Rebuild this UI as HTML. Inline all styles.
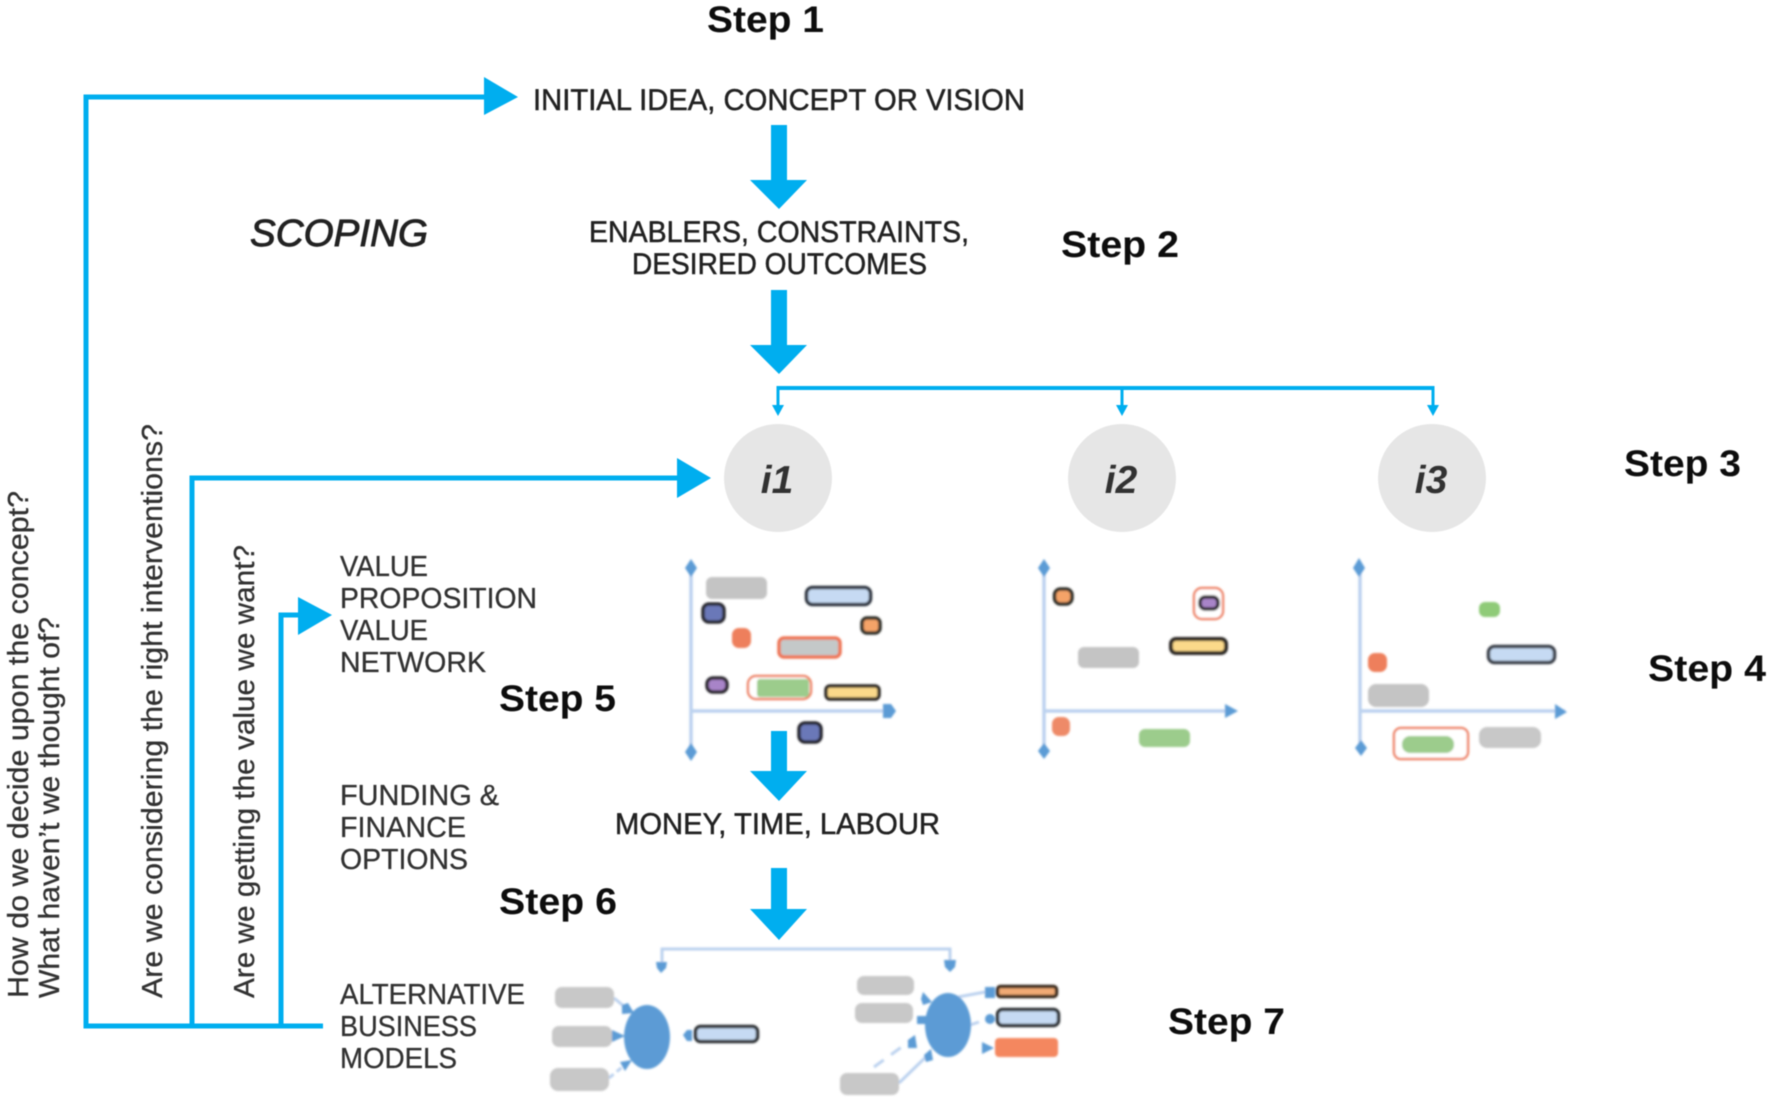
<!DOCTYPE html>
<html><head><meta charset="utf-8"><style>
html,body{margin:0;padding:0;background:#fff}
svg{display:block}
text{font-family:"Liberation Sans",sans-serif;text-rendering:geometricPrecision}
.s{font-weight:bold;font-size:37px;fill:#0a0a0a}
.c{font-size:30px;fill:#222;stroke:#222;stroke-width:.5}
.l{font-size:29px;fill:#333;stroke:#333;stroke-width:.3}
.r{font-size:29px;fill:#333;stroke:#333;stroke-width:.3}
.i{font-size:39px;font-style:italic;font-weight:bold;fill:#333}
</style></head><body>
<svg width="1772" height="1102" viewBox="0 0 1772 1102" xmlns="http://www.w3.org/2000/svg">
<defs>
<filter id="b" x="-5%" y="-5%" width="110%" height="110%"><feGaussianBlur stdDeviation="1.1"/></filter>
<filter id="t" x="-5%" y="-5%" width="110%" height="110%"><feGaussianBlur stdDeviation="0.6"/></filter>
<filter id="a" x="-5%" y="-5%" width="110%" height="110%"><feGaussianBlur stdDeviation="0.4"/></filter>
</defs>
<rect width="1772" height="1102" fill="#fff"/>

<!-- cyan connectors -->
<g filter="url(#a)">
<g fill="none" stroke="#00aeef" stroke-width="5">
<path d="M323 1026H86V97H490"/>
<path d="M192 1026V478H685"/>
<path d="M281 1026V615H303"/>
<path d="M778 388H1433" stroke-width="4"/>
<path d="M778 386V408M1122 388V408M1433 386V408" stroke-width="3"/>
</g>
<g fill="#00aeef">
<polygon points="484,77 518,97 484,115"/>
<polygon points="677,458 711,478 677,498"/>
<polygon points="298,597 332,615 298,635"/>
<polygon points="771,125 787,125 787,180 807,180 779,209 750,180 771,180"/>
<polygon points="771,290 787,290 787,345 807,345 779,374 750,345 771,345"/>
<polygon points="771,731 787,731 787,771 807,771 779,801 750,771 771,771"/>
<polygon points="771,868 787,868 787,909 807,909 779,940 750,909 771,909"/>
<polygon points="772,405 784,405 778,416"/>
<polygon points="1116,405 1128,405 1122,416"/>
<polygon points="1427,405 1439,405 1433,416"/>
</g>
</g>

<!-- circles -->
<g filter="url(#a)">
<circle cx="778" cy="478" r="54" fill="#e6e6e6"/>
<circle cx="1122" cy="478" r="54" fill="#e6e6e6"/>
<circle cx="1432" cy="478" r="54" fill="#e6e6e6"/>
</g>

<!-- charts -->
<g filter="url(#b)">
<g fill="none" stroke="#bcd2ef" stroke-width="3.5">
<path d="M691 566V752M691 711H891"/>
<path d="M1044 566V751M1044 711H1233"/>
<path d="M1360 566V748M1360 711H1565"/>
</g>
<g fill="#5b9bd5">
<polygon points="691,559 697,568 691,577 685,568"/>
<polygon points="691,743 697,752 691,761 685,752"/>
<polygon points="883,704 891,704 896,711 891,718 883,718"/>
<polygon points="1044,559 1050,568 1044,577 1038,568"/>
<polygon points="1044,743 1050,751 1044,759 1038,751"/>
<polygon points="1225,704 1238,711 1225,718"/>
<polygon points="1359,558 1365,568 1359,577 1353,568"/>
<polygon points="1361,740 1367,748 1361,756 1355,748"/>
<polygon points="1555,704 1567,712 1555,719"/>
</g>

<!-- chart 1 -->
<rect x="706" y="577" width="61" height="22" rx="6" fill="#c4c4c4"/>
<rect x="806.5" y="587.5" width="64" height="17" rx="6" fill="#c6daf3" stroke="#2f3540" stroke-width="3.5"/>
<rect x="703" y="604" width="21" height="18" rx="6" fill="#6a78b8" stroke="#2a2a33" stroke-width="3.5"/>
<rect x="862" y="618" width="18" height="15" rx="5" fill="#f4a368" stroke="#33302c" stroke-width="3.5"/>
<rect x="732" y="628" width="19" height="20" rx="7" fill="#ee7f5b"/>
<rect x="779" y="638" width="61" height="19" rx="5" fill="#c4c8c8" stroke="#ee7656" stroke-width="3.5"/>
<rect x="707" y="678" width="20" height="14" rx="6" fill="#a884c8" stroke="#2f2b33" stroke-width="3.5"/>
<rect x="748" y="676" width="63" height="23" rx="8" fill="#fff" stroke="#ee8568" stroke-width="2.5"/>
<rect x="757" y="679" width="52" height="18" rx="3" fill="#9ccc8c"/>
<rect x="826" y="686" width="53" height="13" rx="4" fill="#fbd98a" stroke="#2e2b26" stroke-width="3.5"/>
<rect x="799" y="723" width="22" height="19" rx="6" fill="#6a78b8" stroke="#26262e" stroke-width="3.5"/>

<!-- chart 2 -->
<rect x="1054.5" y="589" width="17.5" height="15" rx="6" fill="#f4a368" stroke="#33302c" stroke-width="3.5"/>
<rect x="1194" y="588" width="29" height="31" rx="8" fill="#fff" stroke="#ee8568" stroke-width="2.5"/>
<rect x="1200" y="597" width="18" height="12" rx="5" fill="#a884c8" stroke="#2f2b33" stroke-width="3.5"/>
<rect x="1171" y="639" width="55" height="14" rx="5" fill="#fbd98a" stroke="#2e2b26" stroke-width="4"/>
<rect x="1078" y="647" width="61" height="21" rx="6" fill="#c4c4c4"/>
<rect x="1052" y="717" width="18" height="19" rx="7" fill="#ee8a68"/>
<rect x="1139" y="729" width="51" height="18" rx="6" fill="#9ccc8c"/>

<!-- chart 3 -->
<rect x="1479" y="602" width="21" height="15" rx="6" fill="#8fcb78"/>
<rect x="1488.5" y="646.5" width="66" height="16" rx="6" fill="#c6daf3" stroke="#3a404a" stroke-width="3.5"/>
<rect x="1368" y="653" width="19" height="19" rx="7" fill="#ee7f5b"/>
<rect x="1368" y="684" width="61" height="23" rx="8" fill="#c4c4c4"/>
<rect x="1394" y="728" width="74" height="31" rx="7" fill="#fff" stroke="#ee8568" stroke-width="2.5"/>
<rect x="1402" y="736" width="52" height="17" rx="8" fill="#9ccc8c"/>
<rect x="1479" y="727" width="62" height="21" rx="8" fill="#c8c8c8"/>

<!-- business models -->
<g fill="none" stroke="#bcd2ef" stroke-width="3">
<path d="M662 962V949H950V962"/>
<path d="M614 998L626 1008"/>
<path d="M609 1078L626 1064" stroke-dasharray="6 4"/>
<path d="M958 997L985 992"/>
<path d="M970 1025L979 1022"/>
<path d="M874 1067L914 1038" stroke-dasharray="12 9"/>
<path d="M899 1083L931 1052"/>
</g>
<g fill="#5b9bd5">
<polygon points="656,962 667,962 666,968 661,973 657,968"/>
<polygon points="944,960 956,960 955,967 950,972 945,967"/>
<ellipse cx="647" cy="1037" rx="23" ry="32"/>
<ellipse cx="948" cy="1025" rx="23" ry="32"/>
<polygon points="622,1005 628,1003 634,1013 622,1014"/>
<polygon points="612,1030 625,1036 612,1042"/>
<polygon points="620,1062 632,1060 625,1071"/>
<polygon points="692,1030 692,1041 687,1041 683,1035 687,1030"/>
<polygon points="921,999 923,992 932,1002 923,1005"/>
<polygon points="917,1016 926,1016 930,1024 917,1024"/>
<polygon points="908,1040 915,1035 917,1048 908,1048"/>
<polygon points="924,1055 931,1049 933,1060 926,1062"/>
<polygon points="985,987 995,987 995,998 985,998"/>
<circle cx="990" cy="1019" r="5"/>
<polygon points="982,1042 994,1048 982,1054"/>
</g>
<rect x="555" y="987" width="59" height="21" rx="7" fill="#c8c8c8"/>
<rect x="552" y="1026" width="60" height="21" rx="7" fill="#c8c8c8"/>
<rect x="550" y="1068" width="59" height="23" rx="8" fill="#c8c8c8"/>
<rect x="695.5" y="1026.5" width="62" height="15" rx="5" fill="#c6daf3" stroke="#2e3036" stroke-width="3.5"/>
<rect x="857" y="976" width="57" height="19" rx="7" fill="#c8c8c8"/>
<rect x="855" y="1003" width="58" height="20" rx="7" fill="#c8c8c8"/>
<rect x="840" y="1073" width="59" height="22" rx="7" fill="#c8c8c8"/>
<rect x="997.5" y="986.5" width="59" height="10" rx="3" fill="#f1aa74" stroke="#3a2a1e" stroke-width="3.5"/>
<rect x="997.5" y="1009.5" width="61" height="16" rx="5" fill="#c6daf3" stroke="#2e3036" stroke-width="3.5"/>
<rect x="995" y="1038" width="63" height="19" rx="4" fill="#f4875f"/>
</g>

<!-- text -->
<g filter="url(#t)">
<text class="s" x="707" y="32" textLength="117" lengthAdjust="spacingAndGlyphs">Step 1</text>
<text class="s" x="1061" y="257" textLength="118" lengthAdjust="spacingAndGlyphs">Step 2</text>
<text class="s" x="1624" y="476" textLength="117" lengthAdjust="spacingAndGlyphs">Step 3</text>
<text class="s" x="1648" y="681" textLength="118" lengthAdjust="spacingAndGlyphs">Step 4</text>
<text class="s" x="499" y="711" textLength="117" lengthAdjust="spacingAndGlyphs">Step 5</text>
<text class="s" x="499" y="914" textLength="118" lengthAdjust="spacingAndGlyphs">Step 6</text>
<text class="s" x="1168" y="1034" textLength="117" lengthAdjust="spacingAndGlyphs">Step 7</text>

<text class="c" x="533" y="110" textLength="492" lengthAdjust="spacingAndGlyphs">INITIAL IDEA, CONCEPT OR VISION</text>
<text class="c" x="589" y="242" textLength="380" lengthAdjust="spacingAndGlyphs">ENABLERS, CONSTRAINTS,</text>
<text class="c" x="632" y="274" textLength="295" lengthAdjust="spacingAndGlyphs">DESIRED OUTCOMES</text>
<text class="c" x="615" y="834" textLength="325" lengthAdjust="spacingAndGlyphs">MONEY, TIME, LABOUR</text>
<text x="250" y="246" font-size="38" font-style="italic" fill="#222" stroke="#222" stroke-width="0.9" textLength="178" lengthAdjust="spacingAndGlyphs">SCOPING</text>

<text class="l" x="340" y="576" textLength="88" lengthAdjust="spacingAndGlyphs">VALUE</text>
<text class="l" x="340" y="608" textLength="197" lengthAdjust="spacingAndGlyphs">PROPOSITION</text>
<text class="l" x="340" y="640" textLength="88" lengthAdjust="spacingAndGlyphs">VALUE</text>
<text class="l" x="340" y="672" textLength="146" lengthAdjust="spacingAndGlyphs">NETWORK</text>
<text class="l" x="340" y="805" textLength="159" lengthAdjust="spacingAndGlyphs">FUNDING &amp;</text>
<text class="l" x="340" y="837" textLength="126" lengthAdjust="spacingAndGlyphs">FINANCE</text>
<text class="l" x="340" y="869" textLength="128" lengthAdjust="spacingAndGlyphs">OPTIONS</text>
<text class="l" x="340" y="1004" textLength="185" lengthAdjust="spacingAndGlyphs">ALTERNATIVE</text>
<text class="l" x="340" y="1036" textLength="137" lengthAdjust="spacingAndGlyphs">BUSINESS</text>
<text class="l" x="340" y="1068" textLength="117" lengthAdjust="spacingAndGlyphs">MODELS</text>

<text class="i" x="777" y="493" text-anchor="middle">i1</text>
<text class="i" x="1121" y="493" text-anchor="middle">i2</text>
<text class="i" x="1431" y="493" text-anchor="middle">i3</text>

<text class="r" transform="translate(28 998) rotate(-90)" textLength="507" lengthAdjust="spacingAndGlyphs">How do we decide upon the concept?</text>
<text class="r" transform="translate(59 998) rotate(-90)" textLength="381" lengthAdjust="spacingAndGlyphs">What haven’t we thought of?</text>
<text class="r" transform="translate(162 998) rotate(-90)" textLength="574" lengthAdjust="spacingAndGlyphs">Are we considering the right interventions?</text>
<text class="r" transform="translate(254 998) rotate(-90)" textLength="453" lengthAdjust="spacingAndGlyphs">Are we getting the value we want?</text>
</g>
</svg>
</body></html>
